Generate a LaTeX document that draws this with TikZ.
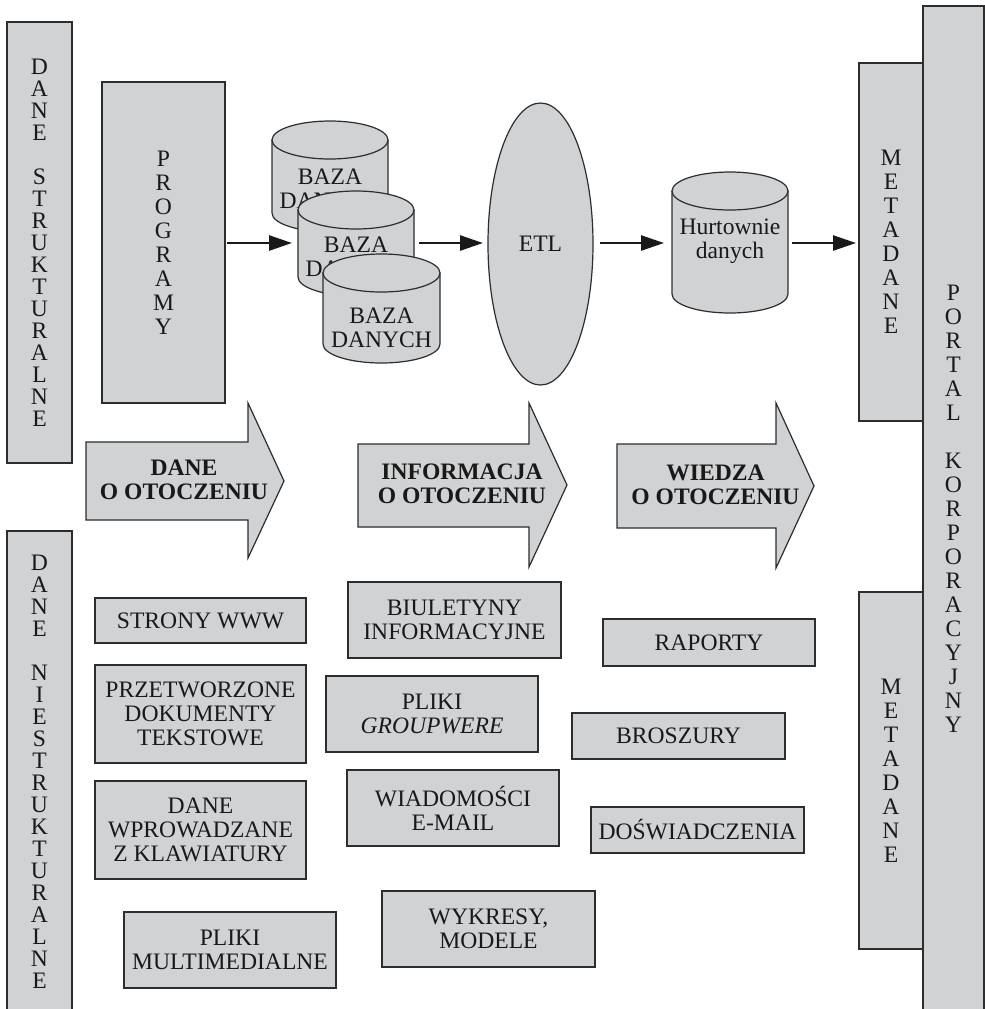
\documentclass[tikz,border=0pt]{standalone}
\usepackage{fontspec}
\setmainfont{Liberation Serif}
\usetikzlibrary{shapes.geometric,arrows.meta}
\definecolor{boxfill}{RGB}{209,210,212}
\definecolor{boxline}{RGB}{45,45,45}
\definecolor{ink}{RGB}{25,25,25}
\newcommand{\basefont}{\fontsize{11.8}{12}\selectfont}
\newcommand{\mybox}[7][]{\node[box,minimum width={(#5-#3)*0.5pt},minimum height={(#6-#4)*0.5pt},#1] (#2) at ({(#3+#5)/2},{-(#4+#6)/2}) {#7};}
\newcommand{\mycyl}[4]{%
  \filldraw[cylline] ({#1-#2},{-(#3)-19}) -- ({#1-#2},{-(#4)+19}) arc[start angle=180,end angle=360,x radius={#2*0.5pt},y radius=9.5pt] -- ({#1+#2},{-(#3)-19}) -- cycle;
  \filldraw[cylline] (#1,{-(#3)-19}) ellipse[x radius={#2*0.5pt},y radius=9.5pt];
}
\tikzset{
  box/.style={draw=boxline, fill=boxfill, line width=0.6pt, inner sep=0pt, outer sep=0pt, align=center, text=ink},
  cylline/.style={draw=boxline, fill=boxfill, line width=0.6pt},
  cyltext/.style={inner sep=0pt, outer sep=0pt, align=center, text=ink},
  bigarrow/.style={draw=boxline, fill=boxfill, line width=0.6pt},
  arrowtext/.style={align=center, text=ink, inner sep=0pt, font=\basefont\bfseries},
  vnarrow/.style={font=\fontsize{11.8}{11}\selectfont},
  vwide/.style={font=\fontsize{11.8}{12}\selectfont},
  conn/.style={line width=1.3pt, draw=ink, -{Triangle[length=11.5pt,width=7.5pt]}}
}
\begin{document}
\begin{tikzpicture}[x=0.5pt,y=0.5pt,font=\basefont]
\useasboundingbox (0,0) rectangle (985,-1009);
\fill[white] (0,0) rectangle (985,-1009);

% side bars
\mybox[vnarrow]{ds}{7}{22}{72}{463}{D\\A\\N\\E\\[11pt]S\\T\\R\\U\\K\\T\\U\\R\\A\\L\\N\\E}
\mybox[vnarrow]{dn}{7}{531}{72}{1012}{D\\A\\N\\E\\[11pt]N\\I\\E\\S\\T\\R\\U\\K\\T\\U\\R\\A\\L\\N\\E}
\mybox[vwide]{portal}{923}{6}{984}{1012}{P\\O\\R\\T\\A\\L\\[12pt]K\\O\\R\\P\\O\\R\\A\\C\\Y\\J\\N\\Y}
\mybox[vwide]{meta1}{859}{63}{923}{421}{M\\E\\T\\A\\D\\A\\N\\E}
\mybox[vwide]{meta2}{859}{592}{923}{949}{M\\E\\T\\A\\D\\A\\N\\E}
\mybox[vwide]{prog}{102}{82}{225}{403}{P\\R\\O\\G\\R\\A\\M\\Y}

% cylinders
\mycyl{330}{58}{121}{232}
\node[cyltext, minimum width=58pt] (c1) at (330,-188.5) {BAZA\\DANYCH};
\mycyl{356}{58}{191}{296}
\node[cyltext, minimum width=58pt] (c2) at (356,-257) {BAZA\\DANYCH};
\mycyl{381.5}{58.5}{254}{363}
\node[cyltext, minimum width=58.5pt] (c3) at (381.5,-328) {BAZA\\DANYCH};

\node[ellipse, draw=boxline, fill=boxfill, line width=0.6pt, minimum width=52.5pt, minimum height=141pt, inner sep=0pt, outer sep=0pt, text=ink] (etl) at (540.5,-244) {ETL};

\mycyl{730}{58}{172}{313}
\node[cyltext, minimum width=58pt] (hurt) at (730,-241.5) {Hurtownie\\danych};

% connectors
\coordinate (ay) at (0,-243);
\draw[conn, shorten <=1pt, shorten >=3pt] (prog.east |- ay) -- (c2.west |- ay);
\draw[conn, shorten <=2.5pt, shorten >=2.5pt] (c2.east |- ay) -- (etl.west |- ay);
\draw[conn, shorten <=3.5pt, shorten >=4pt] (etl.east |- ay) -- (hurt.west |- ay);
\draw[conn, shorten <=2pt, shorten >=1.5pt] (hurt.east |- ay) -- (meta1.west |- ay);

% big arrows
\filldraw[bigarrow] (86,-442) -- (248,-442) -- (248,-403) -- (284,-481) -- (248,-558) -- (248,-520) -- (86,-520) -- cycle;
\node[arrowtext] (a1) at (184,-480) {DANE\\O OTOCZENIU};
\filldraw[bigarrow] (358,-444) -- (529,-444) -- (529,-403) -- (567,-485) -- (529,-567) -- (529,-527) -- (358,-527) -- cycle;
\node[arrowtext] (a2) at (462,-483.5) {INFORMACJA\\O OTOCZENIU};
\filldraw[bigarrow] (617,-444) -- (776,-444) -- (776,-403) -- (814,-486) -- (776,-568) -- (776,-528) -- (617,-528) -- cycle;
\node[arrowtext] (a3) at (715.5,-485) {WIEDZA\\O OTOCZENIU};

% boxes
\mybox{strony}{95}{598}{306}{643}{STRONY WWW}
\mybox{biul}{348}{582}{561}{658}{BIULETYNY\\INFORMACYJNE}
\mybox{rap}{603}{619}{815}{666}{RAPORTY}
\mybox{przet}{95}{665}{306}{763}{PRZETWORZONE\\DOKUMENTY\\TEKSTOWE}
\mybox{pliki}{326}{676}{538}{752}{PLIKI\\\textit{GROUPWERE}}
\mybox{brosz}{572}{713}{785}{759}{BROSZURY}
\mybox{danew}{95}{781}{306}{879}{DANE\\WPROWADZANE\\Z KLAWIATURY}
\mybox{wiad}{347}{770}{559}{846}{WIADOMOŚCI\\E-MAIL}
\mybox{dosw}{591}{807}{804}{853}{DOŚWIADCZENIA}
\mybox{multi}{124}{912}{336}{988}{PLIKI\\MULTIMEDIALNE}
\mybox{wykr}{382}{891}{595}{967}{WYKRESY,\\MODELE}
\end{tikzpicture}
\end{document}
